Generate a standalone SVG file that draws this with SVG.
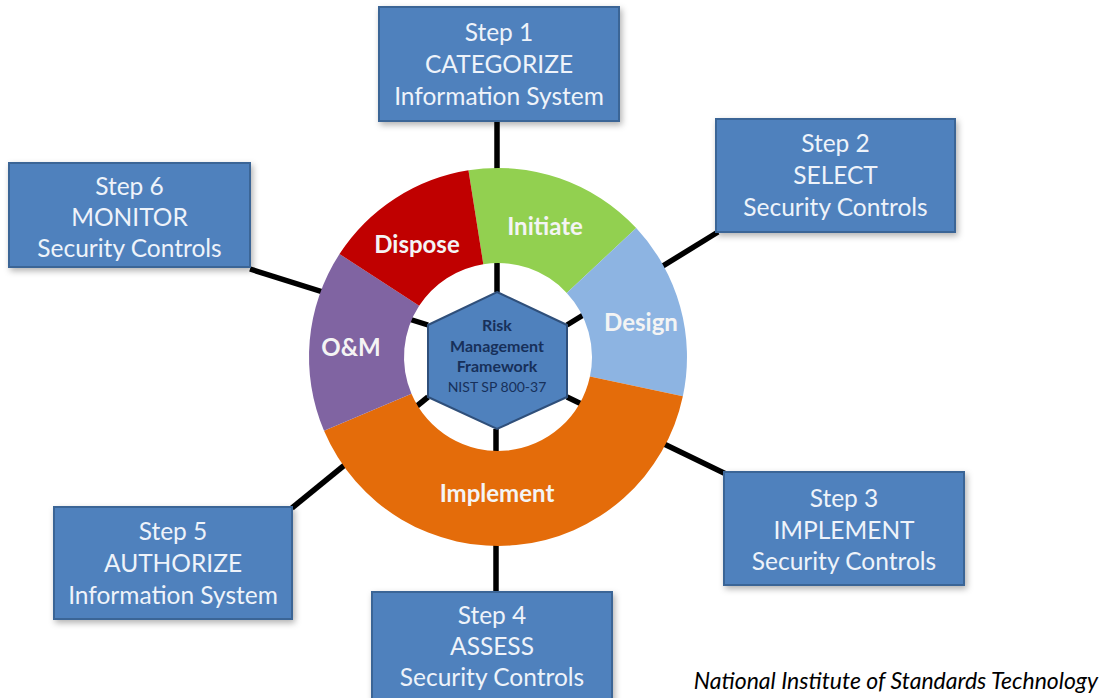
<svg xmlns="http://www.w3.org/2000/svg" width="1106" height="698" viewBox="0 0 1106 698">
<defs>
<filter id="sh" x="-10%" y="-10%" width="125%" height="130%">
<feDropShadow dx="2" dy="3" stdDeviation="3" flood-color="#000" flood-opacity="0.3"/>
</filter>
<style>
.box{fill:#4F81BD;stroke:#3A6596;stroke-width:2;filter:url(#sh)}
.bt{font-family:Lato,"Open Sans",sans-serif;font-size:24.5px;fill:#EEF3FA;text-anchor:middle}
.spoke{stroke:#000;stroke-width:5.5;fill:none}
.seg{stroke:none}
.rl{font-family:Lato,"Open Sans",sans-serif;font-weight:bold;font-size:24px;fill:#F4F4F4;text-anchor:middle}
.ht{font-family:Lato,"Open Sans",sans-serif;font-weight:bold;font-size:16px;fill:#17305A;text-anchor:middle}
</style>
</defs>
<rect width="1106" height="698" fill="#FFFFFF"/>
<g id="connectors">
<line class="spoke" x1="497" y1="121" x2="497" y2="292"/>
<line class="spoke" x1="567" y1="325" x2="718" y2="232"/>
<line class="spoke" x1="567" y1="397" x2="726" y2="474"/>
<line class="spoke" x1="496" y1="429" x2="496" y2="594"/>
<line class="spoke" x1="428" y1="397" x2="292" y2="508"/>
<line class="spoke" x1="428" y1="325" x2="250" y2="269"/>
</g>
<g id="ring">
<g id="initiate">
<path class="seg" fill="#92D050" d="M468.44,170.32 A189,189 0 0 1 636.23,228.10 L566.75,292.89 A94,94 0 0 0 483.30,264.16 Z"/>
<text class="rl" x="545" y="235">Initiate</text>
</g>
<g id="design">
<path class="seg" fill="#8DB4E2" d="M636.23,228.10 A189,189 0 0 1 682.86,396.29 L589.94,376.54 A94,94 0 0 0 566.75,292.89 Z"/>
<text class="rl" x="641" y="331">Design</text>
</g>
<g id="implement">
<path class="seg" fill="#E46C0A" d="M682.86,396.29 A189,189 0 0 1 324.03,430.84 L411.47,393.73 A94,94 0 0 0 589.94,376.54 Z"/>
<text class="rl" x="497" y="502">Implement</text>
</g>
<g id="om">
<path class="seg" fill="#8064A2" d="M324.03,430.84 A189,189 0 0 1 339.49,254.07 L419.16,305.81 A94,94 0 0 0 411.47,393.73 Z"/>
<text class="rl" x="351" y="356">O&amp;M</text>
</g>
<g id="dispose">
<path class="seg" fill="#C00000" d="M339.49,254.07 A189,189 0 0 1 468.44,170.32 L483.30,264.16 A94,94 0 0 0 419.16,305.81 Z"/>
<text class="rl" x="417" y="253">Dispose</text>
</g>
</g>
<g id="rmf">
<polygon points="497,292 567,325 567,397 497,429 428,397 428,325" fill="#4F81BD" stroke="#2F4F7A" stroke-width="2"/>
<text class="ht" x="497" y="331">Risk</text>
<text class="ht" x="497" y="352">Management</text>
<text class="ht" x="497" y="372">Framework</text>
<text class="ht" x="497" y="392" style="font-weight:normal;font-size:14px">NIST SP 800-37</text>
</g>
<g id="step1">
<rect class="box" x="379" y="7" width="240" height="114"/>
<text class="bt" x="499" y="41">Step 1</text>
<text class="bt" x="499" y="73">CATEGORIZE</text>
<text class="bt" x="499" y="105">Information System</text>
</g>
<g id="step2">
<rect class="box" x="716" y="119" width="239" height="113"/>
<text class="bt" x="835.5" y="152">Step 2</text>
<text class="bt" x="835.5" y="184">SELECT</text>
<text class="bt" x="835.5" y="216">Security Controls</text>
</g>
<g id="step3">
<rect class="box" x="724" y="472" width="240" height="113"/>
<text class="bt" x="844" y="507">Step 3</text>
<text class="bt" x="844" y="539">IMPLEMENT</text>
<text class="bt" x="844" y="570">Security Controls</text>
</g>
<g id="step4">
<rect class="box" x="372" y="592" width="240" height="113"/>
<text class="bt" x="492" y="624">Step 4</text>
<text class="bt" x="492" y="655">ASSESS</text>
<text class="bt" x="492" y="686">Security Controls</text>
</g>
<g id="step5">
<rect class="box" x="54" y="507" width="238" height="112"/>
<text class="bt" x="173" y="540">Step 5</text>
<text class="bt" x="173" y="572">AUTHORIZE</text>
<text class="bt" x="173" y="604">Information System</text>
</g>
<g id="step6">
<rect class="box" x="9" y="163" width="241" height="104"/>
<text class="bt" x="129.5" y="195">Step 6</text>
<text class="bt" x="129.5" y="226">MONITOR</text>
<text class="bt" x="129.5" y="257">Security Controls</text>
</g>
<text x="1098" y="689" font-family="Lato,'Open Sans',sans-serif" font-style="italic" font-size="23" fill="#000" text-anchor="end">National Institute of Standards Technology</text>
</svg>
